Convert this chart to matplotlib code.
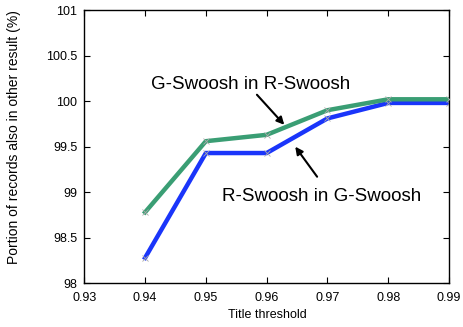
import matplotlib
matplotlib.use("Agg")
import matplotlib.pyplot as plt

thresholds = [0.94, 0.95, 0.96, 0.97, 0.98, 0.99]
g_in_r = [98.78, 99.56, 99.63, 99.90, 100.02, 100.02]
r_in_g = [98.28, 99.43, 99.43, 99.81, 99.98, 99.98]

xticks = [0.93, 0.94, 0.95, 0.96, 0.97, 0.98, 0.99]
yticks = [98, 98.5, 99, 99.5, 100, 100.5, 101]
xtick_labels = ["0.93", "0.94", "0.95", "0.96", "0.97", "0.98", "0.99"]
ytick_labels = ["98", "98.5", "99", "99.5", "100", "100.5", "101"]

plt.rcParams['font.family'] = ['Liberation Sans', 'DejaVu Sans']

fig = plt.figure(figsize=(4.64, 3.27), dpi=100)
ax = fig.add_axes([0.1817, 0.1336, 0.786, 0.8358])

ax.plot(thresholds, r_in_g, color='#1a35fa', lw=3.2, marker='x', ms=4,
        mec='#aaaaaa', mew=0.6, solid_joinstyle='miter', zorder=2)
ax.plot(thresholds, g_in_r, color='#3a9e74', lw=3.2, marker='x', ms=4,
        mec='#aaaaaa', mew=0.6, solid_joinstyle='miter', zorder=3)

ax.set_xlim(0.93, 0.99)
ax.set_ylim(98, 101)
ax.set_xticks(xticks)
ax.set_xticklabels(xtick_labels)
ax.set_yticks(yticks)
ax.set_yticklabels(ytick_labels)
ax.tick_params(direction='in', top=True, right=True, length=4, width=0.8,
               labelsize=9)
ax.tick_params(axis='x', pad=6.0)
ax.tick_params(axis='y', pad=5.0)
for s in ax.spines.values():
    s.set_linewidth(1.0)

fig.text(267 / 464, 1 - 315 / 327, "Title threshold", fontsize=9,
         ha='center', va='center')
fig.text(14 / 464, 1 - 137.5 / 327, "Portion of records also in other result (%)",
         fontsize=10, rotation=90, ha='center', va='center')

ax.text(0.9574, 100.18, "G-Swoosh in R-Swoosh", fontsize=13.5,
        ha='center', va='center')
ax.text(0.9691, 98.95, "R-Swoosh in G-Swoosh", fontsize=13.5,
        ha='center', va='center')
ax.annotate("", xy=(0.9629, 99.74), xytext=(0.9584, 100.07),
            arrowprops=dict(arrowstyle='-|>', color='black', lw=1.5,
                            mutation_scale=11, shrinkA=0, shrinkB=0))
ax.annotate("", xy=(0.9647, 99.50), xytext=(0.9683, 99.17),
            arrowprops=dict(arrowstyle='-|>', color='black', lw=1.5,
                            mutation_scale=11, shrinkA=0, shrinkB=0))

fig.savefig("out.png", dpi=100)
